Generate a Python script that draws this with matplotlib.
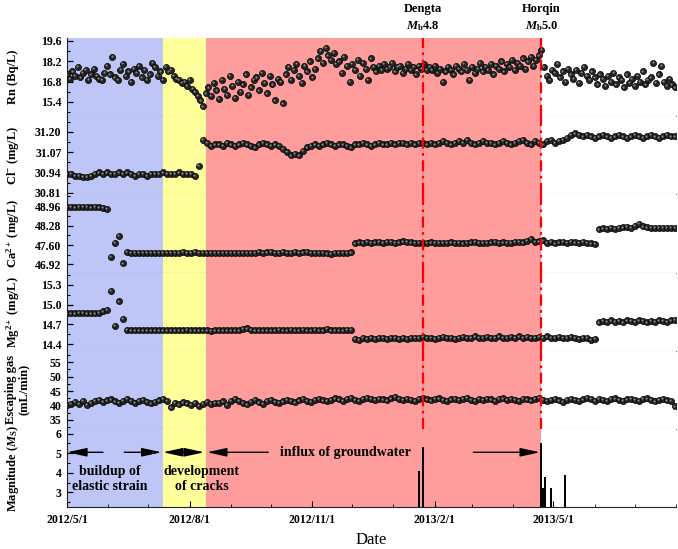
import numpy as np
import pandas as pd
import matplotlib
matplotlib.use("Agg")
import matplotlib.pyplot as plt
import matplotlib.dates as mdates
from matplotlib.ticker import AutoMinorLocator, FormatStrFormatter
from matplotlib.transforms import offset_copy

plt.rcParams["font.family"] = "Liberation Serif"
plt.rcParams["font.weight"] = "bold"
plt.rcParams["mathtext.fontset"] = "custom"
plt.rcParams["mathtext.rm"] = "Liberation Serif:bold"
plt.rcParams["mathtext.bf"] = "Liberation Serif:bold"
plt.rcParams["mathtext.it"] = "Liberation Serif:italic:bold"

# ---- data ----
start = "2012-05-01"

# Rn, every 2 days
rn = [17.3, 17.0, 17.5, 17.2, 17.8, 17.1, 17.4, 17.6, 16.9, 17.3, 17.7, 17.2, 17.0,
      16.9, 17.4, 17.9, 17.3, 18.5, 17.1, 16.9, 17.6, 18.0, 17.2, 17.5, 16.8, 17.7,
      17.4, 17.9, 17.1, 17.6, 16.9, 17.3, 18.1, 17.8, 17.2, 17.5, 16.9,
      17.8, 17.5, 17.6, 17.2, 17.0, 16.9, 16.7, 16.8, 16.5, 16.9, 16.3, 16.1, 15.8,
      15.5, 15.1, 16.0,
      16.4, 15.8, 16.7, 16.2, 15.6, 16.9, 16.3, 15.9, 17.2, 16.5, 15.7, 16.8, 16.1,
      16.6, 17.3, 15.9, 16.4, 16.9, 17.1, 16.2, 17.4, 16.7, 16.0, 17.2, 16.6, 15.5,
      17.0, 16.8, 15.3,
      17.3, 17.8, 16.9, 17.6, 18.0, 17.2, 16.7, 17.9, 17.5, 18.2, 17.1, 17.7,
      18.4, 18.9, 18.1, 19.1, 18.6, 18.3, 18.8, 18.0,
      18.2, 17.4, 18.5, 17.9, 16.8, 18.0, 17.6, 18.3, 17.2, 18.1, 17.7, 16.9, 18.4,
      17.8, 17.5,
      17.9, 17.6, 18.0, 17.7, 17.8, 18.1, 17.5, 17.8, 17.9, 17.4, 17.7, 18.0, 17.6,
      17.8, 17.3, 17.9, 17.7, 18.0, 17.6, 17.8,
      17.6, 17.9, 17.4, 17.7, 16.8, 17.5, 17.8, 17.6, 17.3, 17.9, 17.7, 17.5, 18.0,
      17.6, 16.9, 17.8, 17.4, 17.7, 18.1, 17.5, 17.8, 17.6, 18.0, 17.3, 17.9, 17.7,
      18.2, 17.5, 18.0, 17.8, 18.3, 17.6, 18.1, 17.9, 18.4, 17.7, 18.2, 18.5, 17.9,
      18.3, 18.6, 19.0,
      17.8, 17.2, 16.9, 17.6, 17.4, 18.0, 17.1, 17.5, 16.8, 17.7, 17.3, 17.0, 17.6,
      16.7, 17.4, 17.8, 17.2, 16.9, 17.5, 17.1, 16.6, 17.3, 17.0, 16.5, 17.2, 16.8,
      17.4, 16.6, 17.1, 16.9, 16.4, 17.3, 16.7, 17.0, 16.5, 17.2, 16.8, 17.5, 16.6,
      16.9, 17.1, 18.1, 16.7, 17.3, 17.9, 16.8, 16.5, 17.0, 16.6, 16.4]

# Cl-, Ca2+, Mg2+, escaping gas, every 3 days
cl = [30.93, 30.93, 30.92, 30.92, 30.91, 30.91, 30.92, 30.93, 30.94, 30.93, 30.94,
      30.93, 30.93, 30.94, 30.93, 30.94, 30.93, 30.92, 30.93, 30.93, 30.92, 30.93,
      30.93, 30.93, 30.94, 30.93, 30.93, 30.93, 30.94, 30.93, 30.93, 30.93, 30.92,
      30.98,
      31.15, 31.13, 31.11, 31.12, 31.12, 31.11, 31.13, 31.12, 31.11, 31.12, 31.13,
      31.12, 31.11, 31.10, 31.12, 31.13, 31.12, 31.11, 31.12, 31.11, 31.09,
      31.07, 31.05, 31.06, 31.05, 31.08,
      31.10, 31.11, 31.12, 31.11, 31.12, 31.13, 31.12, 31.11, 31.12, 31.12, 31.11,
      31.10, 31.12, 31.12, 31.13, 31.12, 31.11, 31.12, 31.13, 31.12, 31.12, 31.13,
      31.12, 31.13, 31.13, 31.12, 31.13, 31.12, 31.13, 31.13, 31.12,
      31.13, 31.12, 31.13, 31.14, 31.13, 31.12, 31.13, 31.14, 31.13, 31.15, 31.13,
      31.12, 31.13, 31.14, 31.13, 31.13, 31.12, 31.13, 31.14, 31.13, 31.12, 31.13,
      31.14, 31.15, 31.13, 31.12, 31.14, 31.13,
      31.12, 31.14, 31.15, 31.13, 31.14, 31.15, 31.16, 31.18, 31.19, 31.18, 31.17,
      31.18, 31.17, 31.16, 31.17, 31.18, 31.17, 31.16, 31.17, 31.18, 31.17, 31.16,
      31.17, 31.18, 31.17, 31.16, 31.17, 31.18, 31.17, 31.16, 31.17, 31.18, 31.17,
      31.17]

ca = [48.93, 48.93, 48.92, 48.93, 48.94, 48.93, 48.92, 48.93, 48.92, 48.90,
      48.86, 47.18, 47.68, 47.92, 46.96, 47.36,
      47.32, 47.33, 47.32, 47.32, 47.33, 47.32, 47.32, 47.32, 47.33, 47.32, 47.32,
      47.32, 47.32, 47.35, 47.32, 47.33, 47.36, 47.32, 47.32, 47.33, 47.32, 47.32,
      47.32, 47.32, 47.32, 47.32, 47.32, 47.32, 47.32, 47.32, 47.33, 47.32, 47.36,
      47.33, 47.34, 47.36, 47.33, 47.32, 47.35, 47.33, 47.32, 47.36, 47.33, 47.34,
      47.37, 47.33, 47.32, 47.32, 47.32, 47.31, 47.30, 47.32, 47.32, 47.32, 47.33,
      47.34,
      47.66, 47.69, 47.68, 47.70, 47.67, 47.69, 47.71, 47.68, 47.72, 47.70, 47.68,
      47.69, 47.73, 47.71, 47.69, 47.68, 47.68, 47.67, 47.68, 47.69, 47.68, 47.67,
      47.68, 47.68, 47.69, 47.67, 47.68, 47.66, 47.68, 47.69, 47.70, 47.68, 47.67,
      47.68, 47.69, 47.70, 47.68, 47.69, 47.67, 47.68, 47.70, 47.72, 47.69, 47.74,
      47.82, 47.70, 47.73, 47.76, 47.68, 47.70, 47.66, 47.69, 47.72, 47.68, 47.70,
      47.69, 47.67, 47.70, 47.68, 47.66, 47.64,
      48.15, 48.18, 48.16, 48.20, 48.17, 48.19, 48.22, 48.24, 48.21, 48.28, 48.33,
      48.25, 48.22, 48.20, 48.21, 48.19, 48.20, 48.19, 48.20, 48.19]

mg = [14.87, 14.87, 14.87, 14.88, 14.88, 14.87, 14.87, 14.87, 14.88, 14.90,
      14.92, 15.21, 14.68, 15.05, 14.78, 14.62,
      14.61, 14.61, 14.61, 14.61, 14.61, 14.61, 14.61, 14.61, 14.61, 14.61, 14.61,
      14.61, 14.61, 14.61, 14.62, 14.61, 14.61, 14.61, 14.61, 14.61, 14.60, 14.61,
      14.61, 14.61, 14.61, 14.61, 14.61, 14.61, 14.63, 14.64, 14.62, 14.61, 14.61,
      14.61, 14.61, 14.61, 14.61, 14.62, 14.61, 14.61, 14.62, 14.61, 14.61, 14.62,
      14.61, 14.61, 14.62, 14.61, 14.61, 14.63, 14.61, 14.61, 14.61, 14.61, 14.62,
      14.62,
      14.48, 14.47, 14.49, 14.48, 14.49, 14.48, 14.50, 14.49, 14.48, 14.49, 14.50,
      14.48, 14.49, 14.48, 14.50, 14.49, 14.50, 14.51, 14.49, 14.50, 14.48, 14.49,
      14.51, 14.49, 14.50, 14.48, 14.50, 14.51, 14.49, 14.50, 14.52, 14.50, 14.49,
      14.51, 14.49, 14.50, 14.52, 14.50, 14.49, 14.51, 14.50, 14.52, 14.49, 14.51,
      14.50, 14.49, 14.51, 14.50, 14.52, 14.50, 14.49, 14.51, 14.50, 14.49, 14.51,
      14.50, 14.48, 14.50, 14.49, 14.47, 14.48,
      14.73, 14.75, 14.74, 14.76, 14.74, 14.75, 14.73, 14.76, 14.75, 14.74, 14.76,
      14.75, 14.73, 14.75, 14.74, 14.76, 14.75, 14.74, 14.76, 14.77]

gas = [40.2, 40.6, 41.2, 40.5, 41.6, 40.1, 40.8, 41.5, 42.0, 41.3, 41.8, 42.1,
       41.4, 40.9, 41.6, 42.2, 41.7, 41.0, 41.5, 42.0, 41.3, 40.7, 41.2, 41.8,
       42.2, 41.5, 39.3, 41.0, 40.4, 41.1, 40.7, 40.2, 41.0, 39.8, 40.5,
       41.2, 40.6, 40.9, 40.8, 41.4, 40.3, 41.7, 42.2, 41.5, 40.9, 40.4, 41.3,
       42.0, 41.1, 40.6, 41.5, 41.9, 41.2, 40.8, 41.4, 42.0, 41.6, 41.1, 41.8,
       42.3, 41.7, 41.3, 41.9, 42.4, 41.8, 41.5, 42.0, 42.5,
       42.1, 41.7, 42.3, 42.6, 42.0, 41.6, 42.2, 42.7, 42.3, 41.9, 42.4, 42.1,
       41.8, 42.5, 42.9, 42.3, 41.9, 42.4, 42.0, 41.7, 42.3, 42.6, 42.1, 41.8,
       42.2, 42.5, 42.0, 41.6, 42.1, 42.4, 41.9, 42.2, 42.6,
       42.0, 41.7, 42.3, 41.9, 42.4, 42.1, 41.6, 42.2, 42.5, 41.9, 42.3, 42.0,
       41.7, 42.4, 42.1, 41.8, 42.3, 42.6, 42.0, 41.6, 41.9, 42.2, 41.8, 41.3,
       41.9, 42.4, 42.0, 41.5, 42.1, 42.6, 42.2, 41.7, 42.3, 42.0, 41.6, 42.2,
       42.5, 41.9, 41.5, 42.1, 42.4, 42.0, 41.6, 42.2, 42.5, 41.9, 41.4, 42.0,
       42.3, 41.8, 41.5, 39.7]

quake_dates = ["2013-01-20", "2013-01-23", "2013-04-22", "2013-04-23",
               "2013-04-25", "2013-04-29", "2013-05-10"]
quake_mags = [4.1, 5.3, 5.5, 3.2, 3.8, 3.2, 3.9]

phase_edges = ["2012-05-01", "2012-07-12", "2012-08-13", "2013-04-22"]
phase_colors = ["#BDC6F6", "#FFFF9C", "#FF9C9C"]

events = [("2013-01-23", "Dengta", r"$M_{\rm b}$4.8"),
          ("2013-04-22", "Horqin", r"$M_{\rm b}$5.0")]

tick_dates = ["2012-05-01", "2012-08-01", "2012-11-01", "2013-02-01", "2013-05-01"]
tick_labels = ["2012/5/1", "2012/8/1", "2012/11/1", "2013/2/1", "2013/5/1"]

ylabels = ["Rn (Bq/L)", r"Cl$^{-}$ (mg/L)", r"Ca$^{2+}$ (mg/L)", r"Mg$^{2+}$ (mg/L)",
           "Escaping gas\n(mL/min)", r"Magnitude ($M_{\rm S}$)"]
yticks = [[15.4, 16.8, 18.2, 19.6], [30.81, 30.94, 31.07, 31.20],
          [46.92, 47.60, 48.28, 48.96], [14.4, 14.7, 15.0, 15.3],
          [35, 40, 45, 50, 55], [3, 4, 5, 6]]
ylims = [(14.42, 19.8), (30.80, 31.30), (46.64, 49.37), (14.30, 15.49),
         (31.9, 59.0), (2.25, 6.25)]
yfmt = ["%.1f", "%.2f", "%.2f", "%.1f", "%d", "%d"]


def d(s):
    return mdates.date2num(pd.Timestamp(s))


rn_dates = pd.date_range(start, periods=len(rn), freq="2D")
ion_dates = pd.date_range(start, periods=len(cl), freq="3D")

fig = plt.figure(figsize=(6.78, 5.49), dpi=100)
axes = fig.subplots(6, 1, sharex=True, gridspec_kw=dict(hspace=0))
fig.subplots_adjust(left=67 / 678, right=676 / 678, top=1 - 38 / 549, bottom=1 - 507 / 549)


def dots(ax, x, y):
    ax.plot(x, y, "o", ms=4.4, mfc="#262626", mec="black", mew=0.5, ls="none", zorder=3)
    hl = offset_copy(ax.transData, fig=fig, x=-0.5, y=0.5, units="points")
    ax.plot(x, y, "o", ms=1.5, mfc="#8a8a8a", mec="none", ls="none", transform=hl, zorder=3.1)


series = [(rn_dates, rn), (ion_dates, cl), (ion_dates, ca), (ion_dates, mg), (ion_dates, gas)]

for i, ax in enumerate(axes):
    for k, c in enumerate(phase_colors):
        ax.axvspan(d(phase_edges[k]), d(phase_edges[k + 1]), color=c, lw=0, zorder=0)
    if i < 5:
        dots(ax, *series[i])
        for date, _, _ in events:
            ax.axvline(d(date), color="red", lw=1.6, ls=(0, (5, 2, 1.2, 2)), zorder=4)
    ax.set_ylim(*ylims[i])
    ax.set_yticks(yticks[i])
    ax.yaxis.set_major_formatter(FormatStrFormatter(yfmt[i]))
    ax.yaxis.set_minor_locator(AutoMinorLocator(2))
    ax.tick_params(axis="y", which="both", direction="in", labelsize=8.5, pad=4)
    ax.tick_params(axis="y", which="major", length=4, width=0.9)
    ax.tick_params(axis="y", which="minor", length=2, width=0.8)
    ax.spines["top"].set_visible(False)
    ax.spines["right"].set_visible(False)
    ax.spines["left"].set_color("#222222")
    if i < 5:
        ax.spines["bottom"].set_color("#7a7a7a")
        ax.tick_params(axis="x", which="both", bottom=False, labelbottom=False)
    lx = -0.082 if i == 4 else -0.088
    ax.text(lx, 0.5, ylabels[i], transform=ax.transAxes, rotation=90, ha="center",
            va="center", fontsize=9, fontweight="bold", linespacing=1.1)

# magnitude panel
axm = axes[5]
axm.vlines([d(q) for q in quake_dates], ylims[5][0], quake_mags, color="black", lw=1.4, zorder=3)
axm.spines["bottom"].set_color("#222222")
axm.set_xlim(d("2012-05-01"), d("2013-08-01"))
axm.set_xticks([d(t) for t in tick_dates])
axm.set_xticklabels(tick_labels)
axm.xaxis.set_minor_locator(mdates.MonthLocator())
axm.tick_params(axis="x", which="both", direction="in", labelsize=8.5, pad=5)
axm.tick_params(axis="x", which="major", length=4)
axm.tick_params(axis="x", which="minor", length=2.5)

arrow_y = 5.05
arrows = [("2012-05-28", "2012-05-01"), ("2012-06-13", "2012-07-11"),
          ("2012-07-28", "2012-07-12"), ("2012-07-28", "2012-08-12"),
          ("2012-09-29", "2012-08-14"), ("2013-03-02", "2013-04-21")]
for tail, tip in arrows:
    axm.annotate("", xy=(d(tip), arrow_y), xytext=(d(tail), arrow_y),
                 arrowprops=dict(arrowstyle="-|>,head_length=1.2,head_width=0.26",
                                 color="black", lw=1, shrinkA=0, shrinkB=0,
                                 mutation_scale=10), zorder=4)

axm.text(d("2012-06-02"), 3.68, "buildup of\nelastic strain", ha="center", va="center",
         fontsize=10, fontweight="bold", linespacing=1.25)
axm.text(d("2012-08-10"), 3.68, "development\nof cracks", ha="center", va="center",
         fontsize=10, fontweight="bold", linespacing=1.25)
axm.text(d("2012-11-26"), arrow_y, "influx of groundwater", ha="center", va="center",
         fontsize=10, fontweight="bold")

for date, name, mag in events:
    axes[0].text(d(date), 1.373, name, transform=axes[0].get_xaxis_transform(),
                 ha="center", va="center", fontsize=9, fontweight="bold", clip_on=False)
    axes[0].text(d(date), 1.154, mag, transform=axes[0].get_xaxis_transform(),
                 ha="center", va="center", fontsize=9, fontweight="bold", clip_on=False)

fig.text(371 / 678, 1 - 540 / 549, "Date", ha="center", va="center", fontsize=12,
         fontweight="normal")

fig.savefig("out.png", dpi=100)
